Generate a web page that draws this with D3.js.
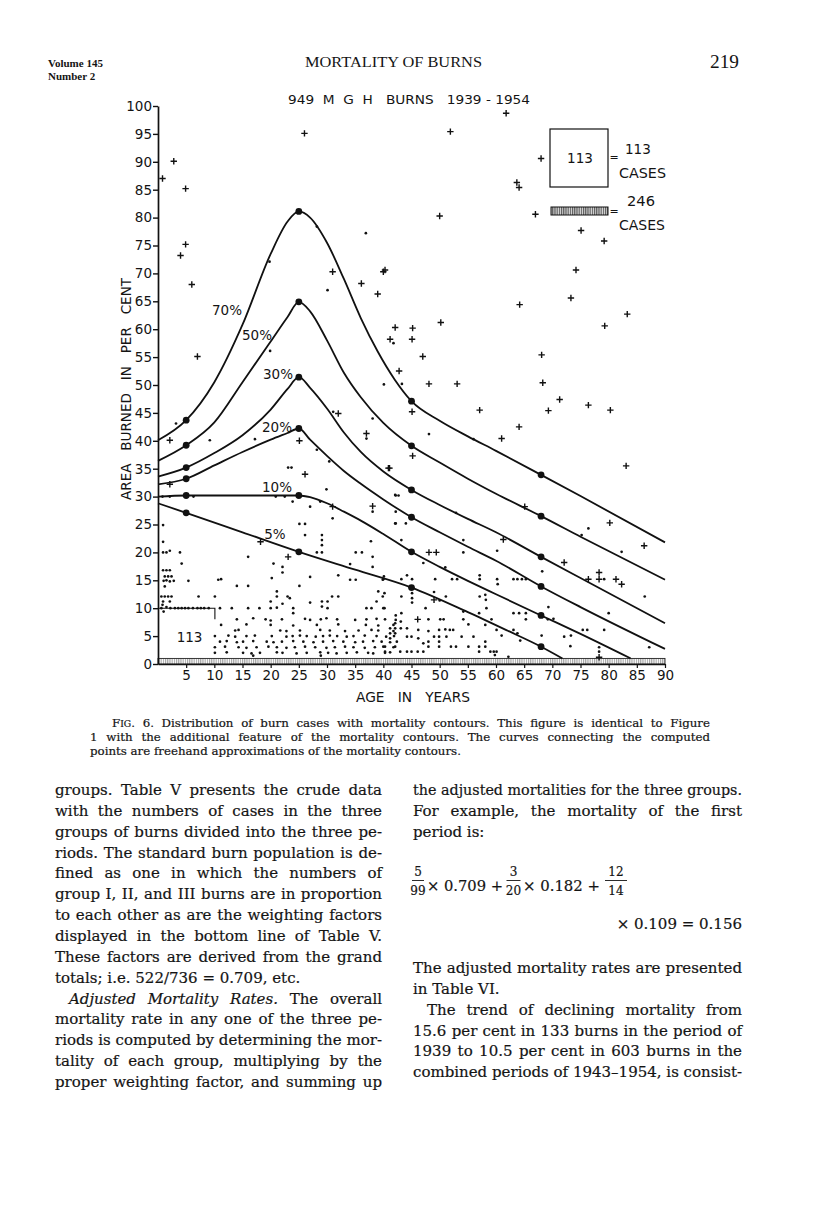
<!DOCTYPE html>
<html lang="en">
<head>
<meta charset="UTF-8">
<title>Mortality of Burns - Fig. 6</title>
<script src="https://d3js.org/d3.v7.min.js"></script>
<style>
  body { margin: 0; background: #fff; }
  svg { display: block; }
  .serif { font-family: "Liberation Serif", "DejaVu Serif", serif; fill: #141414; }
  .book { font-family: "DejaVu Serif", "Liberation Serif", serif; fill: #141414; stroke: #141414; stroke-width: 0.2; }
  .lett { font-family: "DejaVu Sans", "Liberation Sans", sans-serif; fill: #141414; }
</style>
</head>
<body>
<svg id="page"></svg>
<script>
// ---- chart data ----
const xTicks = [5, 10, 15, 20, 25, 30, 35, 40, 45, 50, 55, 60, 65, 70, 75, 80, 85, 90];
const yTicks = [0, 5, 10, 15, 20, 25, 30, 35, 40, 45, 50, 55, 60, 65, 70, 75, 80, 85, 90, 95, 100];

const contourNames = ["70%", "50%", "30%", "20%", "10%", "5%"];
const computedAges = [5, 25, 45, 68];
const computed70 = [43.7, 81.1, 47.1, 33.9];
const computed50 = [39.2, 64.9, 39.1, 26.5];
const computed30 = [35.2, 51.4, 31.2, 19.2];
const computed20 = [33.2, 42.2, 26.3, 13.9];
const computed10 = [30.2, 30.2, 20.1, 8.7];
const computed5  = [27.1, 20.1, 13.7, 3.1];

// freehand contour lines, [age, area]
const curve70 = [[0,40.1],[5,43.7],[10,50.5],[15,60.8],[20,73.5],[23,79.3],[25,81.1],[27,80],[30,75.5],[33,69],[36,62],[39,56],[42,51],[45,47.1],[50,43.6],[55,40.8],[60,38.2],[68,33.9],[75,30.1],[90,21.8]];
const curve50 = [[0,36.4],[5,39.2],[10,43.3],[15,50.5],[20,57.8],[23,62.2],[25,64.9],[27,63.2],[30,58],[33,52.2],[36,47.8],[40,43.2],[45,39.1],[50,36.1],[55,33.2],[60,30.5],[68,26.5],[75,22.8],[90,15.1]];
const curve30 = [[0,33.6],[5,35.2],[10,37.8],[15,41],[20,45.6],[23,49.3],[25,51.4],[27,49.5],[30,45.8],[33,41.5],[36,38],[40,34.5],[45,31.2],[50,28.5],[55,26],[60,23.6],[68,19.2],[75,15.4],[90,7.3]];
const curve20 = [[0,32.2],[5,33.2],[10,35.6],[15,38],[20,40.2],[23,41.4],[25,42.2],[27,40.2],[30,37.3],[33,34.6],[36,32.3],[40,29.5],[45,26.3],[50,23.6],[55,21],[60,18.5],[68,13.9],[75,10.2],[90,2.7]];
const curve10 = [[0,30],[5,30.2],[10,30.2],[15,30.2],[20,30.2],[25,30.2],[27,29.9],[30,28.8],[33,27.3],[36,25.7],[40,23.3],[45,20.1],[50,17.4],[55,14.9],[60,12.5],[68,8.7],[75,5.4],[83.9,1]];
const curve5  = [[0,28.8],[5,27.1],[15,23.6],[25,20.1],[35,16.9],[45,13.7],[55,9.3],[62,6],[68,3.1],[71.8,1]];

// deaths (+) and survivors (.), [age, area]
const deaths = [[26,95.1],[2.8,90.1],[0.8,87],[4.9,85.2],[4.9,75.2],[4,73.2],[6,68],[7,55.1],[31,70.3],[36.1,68.2],[40,70.3],[40.3,70.6],[39,66.3],[42.1,60.3],[41.2,58.2],[42.8,52.5],
  [61.8,98.7],[51.9,95.4],[68,90.6],[63.7,86.3],[64.1,85.4],[50,80.3],[67,80.6],[75.1,77.7],[79.2,75.8],[74.2,70.6],[64.2,64.4],[73.3,65.6],[83.3,62.7],[79.3,60.6],[50.2,61.2],[45.2,60.2],[45.1,58.2],[47,55.1],[68.1,55.4],[48.1,50.2],[53.1,50.2],[68.3,50.4],
  [71.3,47.4],[76.4,46.4],[80.3,45.5],[69.3,45.4],[57.1,45.5],[45.1,45.2],[64.1,42.5],[61,40.4],[45.2,37.3],[83.1,35.5],[41.1,35.1],[65.1,28.2],[80.2,25.3],[61.3,22.3],[48.1,20],[49.4,20],[86.3,21.2],[72.1,18.2],[76.4,15.2],[78.3,16.4],[78.3,15.2],[81.3,15.2],[82.3,14.3],[49,11.5],[46.1,8],
  [2.1,40.1],[25.1,40],[32,44.9],[37,41.3],[26.1,34],[40.9,35.1],[2.1,32.2],[31,28.2],[38.1,28.3],[18.2,21.9],[23.1,19.2],[78.3,1.2]];

const survivors = [[28.2,78.4],[19.8,72.1],[30.1,67],[36.9,77.2],[41.8,57.5],[19.9,56.1],[40.1,50.1],[43.3,50.2],
  [48.1,41.2],[56,40.3],[42.2,30.2],[42.7,30.2],[52.9,27.1],[42.2,27.3],[42.2,25.2],[44,25.2],[76.4,24.3],[75.2,23.1],[43.2,22.2],[54.2,22.2],[54.2,20],[60.2,20.3],[82.3,20.1],[47.1,18.1],[51,17.3],[68.2,16.6],
  [40,15.2],[43.2,15.2],[44.2,15.9],[45.1,15.2],[49.2,15.2],[52.2,15.2],[53.1,15.2],[57.1,15.9],[57.1,15.2],[60.2,15.2],[60.3,14.3],[63.1,15.2],[63.8,15.2],[64.6,15.2],[65.3,15.2],[79.2,15.2],
  [40.2,12.7],[43.2,12.1],[45.1,12.7],[45.1,11.8],[45.1,11],[49,12.9],[50,11.4],[51.1,12.1],[57.1,12.1],[58.1,12.4],[58.2,11.5],[58.3,10],[40.2,10],[86.4,12.1],[69.3,10.2],[80,9.1],[47.5,10],
  [54.2,9.4],[54.2,8],[57,9.1],[59.2,8],[63.1,9.1],[64.1,9.1],[65.3,9.1],[65.3,8],[42.2,8.7],[42.2,7.9],[43.2,9.1],[48,8],[50.1,8],[50.7,8],[55.1,7.1],[58.1,7],[60.1,6.1],[61,5.1],[63.1,6.1],[63.8,5.5],[64.3,4.2],[68.1,5.1],[70.2,8.1],[69.2,8],[72.1,4.9],[73.3,5.1],[75.4,6.1],[76.2,6.1],[79.2,6.1],[73.2,3.2],[78.3,3],[78.3,2.2],[87.2,3],
  [41.2,6.4],[41.2,5.5],[41.2,4.6],[42.1,7.3],[42.1,6.4],[42.1,5.5],[43.1,7.6],[43.1,6.4],[44.2,6.4],[44.2,4.9],[45,4.9],[46.2,6.1],[46.2,4.6],[47.1,3.7],[48,5.9],[48,4],[48,3.1],[49,4.9],[49.9,6.1],[49.9,4.9],[49.9,4],[49.9,3.1],[51,6.2],[51.8,6.1],[52.4,6.1],[51.2,4.9],[52,3.1],[52.9,3.1],[53.9,4.9],[55.1,3.1],[56,4.9],[57,3.1],[57,2.2],[58.1,4],[58.1,3.1],[59,2.2],[59.6,2.2],[60.1,2.2],[59.8,1.6],[62.2,1.3],[40.3,3.1],[40.3,2.2],[43,2.2],[44.2,2.2],[45,2.2],[46.1,2.2],[47.1,2.2],[42.1,3.1],
  [3.2,43.1],[9.2,40.1],[17.2,40.3],[28.2,38.4],[31.1,45.2],[30.4,36.3],[38.1,44],[37,40.4],[23.1,35.2],[23.7,35.2],[0.8,30],[2.1,30],[6.3,30],[20.9,30],[22.5,30],[23.9,29.1],[29.9,31.3],[28.8,29.1],[27,28.2],[31,26.1],[38.1,27.3],[42.1,30.3],[42.1,25.2],[25.1,25.1],[26.1,25.1],[26.1,23.1],[29.1,23.1],[29.1,22.2],[29.1,21.3],[37.8,22],[0.9,24.9],[0.9,21.9],
  [0.9,20],[1.5,20],[2.1,20.3],[3.9,20],[28.2,20],[29.1,20],[35.1,20],[36.2,20],[38.1,19.2],[38.1,17.4],[34.1,17.9],[4.2,18],
  [0.9,16.8],[1.5,16.8],[2.1,16.8],[1.2,15.7],[1.8,15.7],[2.4,15.7],[1,14.9],[1.5,15],[2.1,14.8],[2.8,14.9],[1.2,13.9],
  [5.4,14.9],[10.7,15.1],[11.2,15.2],[14,14],[16,14],[20.5,18],[22.1,17.4],[22.1,16.4],[20.2,15.4],[16,19.2],[27,15.6],[25.1,14],[32,15.9],[34.1,15.1],[35.1,15.1],[39.9,15.1],[40.1,15.7],
  [0.6,12.1],[1.2,12.1],[1.8,12.1],[2.4,12.1],[0.9,11.2],[2.1,11.2],[7.2,12.1],[10.1,12.1],[21.1,12.1],[20,11.2],[23,12.1],[23.4,11.8],[21.1,13],[22.1,10.8],[20,10],[21.1,10.1],[30.9,12.1],[32,12.1],[29.1,11.2],[30.1,11.2],[29.1,10.3],[30.1,10],[27,11],[38.8,11.2],[39.9,12.1],[39.1,13],[37,10],[37.9,10],[40,10],[24,10],[24,9.1],[18,10],[16,10],[13.1,10],[11,10],
  [0.6,10],[1.5,10.2],[2.2,10],[3,10],[3.6,10],[4.2,10],[4.8,10],[5.4,10],[6.2,10],[7,10],[7.6,10],[8.2,10],[9,10],[1,9.4],[0.8,10.6],
  [14,8],[16.9,8.2],[19.1,8],[20,7.8],[22,8],[26.1,8.1],[27,7.9],[28.9,8],[29.9,8.2],[31.8,8],[35,7.9],[37,8],[38.8,8.1],[40.3,8],
  [11.2,7],[15.7,7.1],[20,7],[24,6.9],[28.2,7],[32,7.1],[36.9,7],[39.1,6.9],[41.8,7],
  [13.7,6],[14.3,6.1],[21.7,6],[22.8,5.9],[25.2,6],[28.8,6.1],[30.5,6],[33.2,5.9],[35.6,6],[37.9,6.1],[39.1,6],[41.8,5.9],
  [10.1,5],[12.5,5.1],[13.7,4.9],[15.7,5],[17.2,5.1],[20.2,5],[22.8,4.9],[23.9,5],[25.2,5.1],[26.4,5],[28,4.9],[29.3,5],[30.5,5.1],[31.8,5],[33.5,4.9],[34.7,5],[36.7,5.1],[38.8,5],[40.5,4.9],[41.9,5],
  [11,4],[12.2,4.1],[14,3.9],[15.1,4],[16.9,4.1],[19.3,4],[20.5,3.9],[22,4],[24,4.1],[25.8,4],[27.6,3.9],[29.3,4],[31.1,4.1],[32.9,4],[35,3.9],[36.4,4],[38.2,4.1],[39.7,4],[41.2,3.9],[42.4,4],
  [10.1,3],[11.9,3.1],[14.3,3],[15.7,2.9],[17.5,3],[19.6,3.1],[21.1,3],[22.8,2.9],[24.3,3],[26.1,3.1],[27.9,3],[29.9,2.9],[31.4,3],[33.2,3.1],[34.7,3],[36.7,2.9],[38.5,3],[40,3.1],[41.8,3],
  [10.1,2],[12.2,2.1],[15.1,2],[16.6,1.9],[18.1,2],[21.1,2.1],[22.1,2],[24.6,1.9],[26.4,2],[28.8,2.1],[30.2,2],[31.7,1.9],[33.5,2],[35.3,2.1],[37.3,2],[38.2,1.9],[40.3,2],[41.2,2.1],[16.9,1.5],[28.9,1.5]];

// group boxes: 113 cases (age 0-10, area 0-10) and the 246-case band (area 0-1)
const box113Outline = [[0, 10], [10.1, 10], [10.1, 8]];
const box113Label = "113";
const band246 = [0, 90, 0, 1];

// ---- page text ----
const headerLeft = ["Volume 145", "Number 2"];
const runningHead = "MORTALITY OF BURNS";
const pageNumber = "219";
const chartTitle = "949  M  G  H   BURNS   1939 - 1954";
const yTitle = "AREA   BURNED   IN   PER   CENT";
const xTitle = "AGE   IN   YEARS";
const legendText = [["113", "CASES"], ["246", "CASES"]];

const captionLines = [
  "Distribution of burn cases with mortality contours. This figure is identical to Figure",
  "1 with the additional feature of the mortality contours. The curves connecting the computed",
  "points are freehand approximations of the mortality contours."
];
const leftColumn = [
  "groups. Table V presents the crude data",
  "with the numbers of cases in the three",
  "groups of burns divided into the three pe-",
  "riods. The standard burn population is de-",
  "fined as one in which the numbers of",
  "group I, II, and III burns are in proportion",
  "to each other as are the weighting factors",
  "displayed in the bottom line of Table V.",
  "These factors are derived from the grand",
  "totals; i.e. 522/736 = 0.709, etc.",
  "|Adjusted Mortality Rates.| The overall",
  "mortality rate in any one of the three pe-",
  "riods is computed by determining the mor-",
  "tality of each group, multiplying by the",
  "proper weighting factor, and summing up"
];
const rightColumnTop = [
  "the adjusted mortalities for the three groups.",
  "For example, the mortality of the first",
  "period is:"
];
const formulaFractions = [["5", "99"], ["3", "20"], ["12", "14"]];
const formulaTerms = ["\u00d7 0.709 +", "\u00d7 0.182 +"];
const formulaTail = "\u00d7 0.109 = 0.156";
const rightColumnBottom = [
  "The adjusted mortality rates are presented",
  "in Table VI.",
  "The trend of declining mortality from",
  "15.6 per cent in 133 burns in the period of",
  "1939 to 10.5 per cent in 603 burns in the",
  "combined periods of 1943\u20131954, is consist-"
];

// ---- drawing ----
const W = 816, H = 1210;
const svg = d3.select("#page").attr("width", W).attr("height", H).attr("viewBox", [0, 0, W, H]);
svg.append("rect").attr("width", W).attr("height", H).attr("fill", "#fff");

const defs = svg.append("defs");
const hatch = defs.append("pattern").attr("id", "hatch").attr("patternUnits", "userSpaceOnUse")
  .attr("width", 2.2).attr("height", 4);
hatch.append("rect").attr("width", 2.2).attr("height", 4).attr("fill", "#fff");
hatch.append("line").attr("x1", 0.6).attr("x2", 0.6).attr("y1", 0).attr("y2", 4)
  .attr("stroke", "#8a8a8a").attr("stroke-width", 0.9);
const hatchDark = defs.append("pattern").attr("id", "hatchDark").attr("patternUnits", "userSpaceOnUse")
  .attr("width", 2.2).attr("height", 4);
hatchDark.append("rect").attr("width", 2.2).attr("height", 4).attr("fill", "#ddd");
hatchDark.append("line").attr("x1", 0.6).attr("x2", 0.6).attr("y1", 0).attr("y2", 4)
  .attr("stroke", "#444").attr("stroke-width", 1);

const x = d3.scaleLinear().domain([0, 90]).range([158, 665]);
const y = d3.scaleLinear().domain([0, 100]).range([664, 106]);

// header
svg.append("text").attr("class", "serif").attr("x", 48).attr("y", 67)
  .attr("font-size", 11).attr("font-weight", "bold").text(headerLeft[0]);
svg.append("text").attr("class", "serif").attr("x", 48).attr("y", 79.5)
  .attr("font-size", 11).attr("font-weight", "bold").text(headerLeft[1]);
svg.append("text").attr("class", "serif").attr("x", 305).attr("y", 67)
  .attr("font-size", 14.5).attr("textLength", 177).attr("lengthAdjust", "spacingAndGlyphs").text(runningHead);
svg.append("text").attr("class", "serif").attr("x", 710).attr("y", 68)
  .attr("font-size", 18.5).attr("textLength", 29).attr("lengthAdjust", "spacingAndGlyphs").text(pageNumber);

// chart title
svg.append("text").attr("class", "lett").attr("x", 288).attr("y", 104)
  .attr("font-size", 13).style("white-space", "pre")
  .attr("textLength", 242).attr("lengthAdjust", "spacingAndGlyphs").text(chartTitle);

// 246-case band along the bottom
svg.append("rect")
  .attr("x", x(band246[0])).attr("width", x(band246[1]) - x(band246[0]))
  .attr("y", y(band246[3])).attr("height", y(band246[2]) - y(band246[3]))
  .attr("fill", "url(#hatch)").attr("stroke", "#222").attr("stroke-width", 0.9);

// axes
const yAxis = d3.axisLeft(y).tickValues(yTicks).tickSizeInner(5).tickSizeOuter(0).tickPadding(1)
  .tickFormat(d3.format("d"));
svg.append("g").attr("transform", `translate(${x(0)},0)`).call(yAxis)
  .call(g => {
    g.attr("font-family", null).attr("font-size", null);
    g.select(".domain").attr("stroke", "#111").attr("stroke-width", 1.7);
    g.selectAll(".tick line").attr("stroke", "#111").attr("stroke-width", 1.4);
    g.selectAll(".tick text").attr("class", "lett").attr("font-size", 13.5).attr("fill", "#111");
  });

const xAxis = d3.axisBottom(x).tickValues(xTicks).tickSizeInner(4).tickSizeOuter(0).tickPadding(2)
  .tickFormat(d3.format("d"));
svg.append("g").attr("transform", `translate(0,${y(0)})`).call(xAxis)
  .call(g => {
    g.attr("font-family", null).attr("font-size", null);
    g.select(".domain").attr("stroke", "#111").attr("stroke-width", 1.7);
    g.selectAll(".tick line").attr("stroke", "#111").attr("stroke-width", 1.2);
    g.selectAll(".tick text").attr("class", "lett").attr("font-size", 13.5).attr("fill", "#111");
  });

// axis titles
svg.append("text").attr("class", "lett").attr("font-size", 13.5).style("white-space", "pre")
  .attr("text-anchor", "middle").attr("transform", "translate(131,389) rotate(-90)")
  .attr("textLength", 222).attr("lengthAdjust", "spacingAndGlyphs").text(yTitle);
svg.append("text").attr("class", "lett").attr("font-size", 13.5).style("white-space", "pre")
  .attr("x", 356).attr("y", 702)
  .attr("textLength", 114).attr("lengthAdjust", "spacingAndGlyphs").text(xTitle);

// 113-case box outline and label
const line = d3.line().x(d => x(d[0])).y(d => y(d[1]));
svg.append("path").attr("d", line(box113Outline)).attr("fill", "none")
  .attr("stroke", "#111").attr("stroke-width", 1.1);
svg.append("text").attr("class", "lett").attr("font-size", 13.5).attr("text-anchor", "middle")
  .attr("x", x(5.6)).attr("y", y(4.8) + 5).text(box113Label);

// scatter
svg.append("g").selectAll("circle").data(survivors).join("circle")
  .attr("cx", d => x(d[0])).attr("cy", d => y(d[1])).attr("r", 1.35).attr("fill", "#111");
svg.append("g").selectAll("path").data(deaths).join("path")
  .attr("transform", d => `translate(${x(d[0])},${y(d[1])})`)
  .attr("d", "M-3.2,0H3.2M0,-3.2V3.2").attr("stroke", "#111").attr("stroke-width", 1.4);

// mortality contours
const contourCurves = [curve70, curve50, curve30, curve20, curve10, curve5];
const contourComputed = [computed70, computed50, computed30, computed20, computed10, computed5];
const smooth = d3.line().x(d => x(d[0])).y(d => y(d[1])).curve(d3.curveMonotoneX);
const cg = svg.append("g");
contourCurves.forEach(c => {
  cg.append("path").attr("d", smooth(c)).attr("fill", "none")
    .attr("stroke", "#111").attr("stroke-width", 1.8).attr("stroke-linejoin", "round");
});
contourComputed.forEach(vals => {
  cg.selectAll(null).data(vals.map((v, i) => [computedAges[i], v])).join("circle")
    .attr("cx", d => x(d[0])).attr("cy", d => y(d[1])).attr("r", 3.4).attr("fill", "#111");
});

// contour labels (pixel anchors of the hand lettering)
const labelAnchors = [[227, 315], [257, 340], [278, 379], [277, 432], [277, 492], [275, 539]];
contourNames.forEach((n, i) => {
  svg.append("text").attr("class", "lett").attr("font-size", 13.5).attr("text-anchor", "middle")
    .attr("x", labelAnchors[i][0]).attr("y", labelAnchors[i][1]).text(n);
});

// legend
svg.append("rect").attr("x", 550).attr("y", 129).attr("width", 58).attr("height", 58)
  .attr("fill", "none").attr("stroke", "#111").attr("stroke-width", 1.2);
svg.append("text").attr("class", "lett").attr("font-size", 13.5).attr("text-anchor", "middle")
  .attr("x", 580).attr("y", 163).text(legendText[0][0]);
svg.append("text").attr("class", "lett").attr("font-size", 11).attr("x", 609.5).attr("y", 161).text("=");
svg.append("text").attr("class", "lett").attr("font-size", 13.5).attr("x", 625).attr("y", 154).text(legendText[0][0]);
svg.append("text").attr("class", "lett").attr("font-size", 13.5).attr("x", 619).attr("y", 178)
  .attr("textLength", 47).attr("lengthAdjust", "spacingAndGlyphs").text(legendText[0][1]);
svg.append("rect").attr("x", 551).attr("y", 207).attr("width", 57).attr("height", 8)
  .attr("fill", "url(#hatchDark)").attr("stroke", "#111").attr("stroke-width", 1);
svg.append("text").attr("class", "lett").attr("font-size", 11).attr("x", 609.5).attr("y", 215).text("=");
svg.append("text").attr("class", "lett").attr("font-size", 13.5).attr("x", 627).attr("y", 206)
  .attr("textLength", 28).attr("lengthAdjust", "spacingAndGlyphs").text(legendText[1][0]);
svg.append("text").attr("class", "lett").attr("font-size", 13.5).attr("x", 619).attr("y", 230)
  .attr("textLength", 46).attr("lengthAdjust", "spacingAndGlyphs").text(legendText[1][1]);

// ---- caption and body text ----
function fitLine(t, str, width) {
  const natural = t.node().getComputedTextLength();
  const spaces = (str.match(/ /g) || []).length;
  if (natural > width) {
    t.attr("textLength", width).attr("lengthAdjust", "spacingAndGlyphs");
  } else if (spaces) {
    t.attr("word-spacing", (width - natural) / spaces);
  }
}

function textLine(xPos, yPos, str, size, width, justify) {
  const t = svg.append("text").attr("class", "book").attr("x", xPos).attr("y", yPos)
    .attr("font-size", size);
  // "|...|" marks an italic run
  str.split("|").forEach((part, i) => {
    if (!part) return;
    const ts = t.append("tspan").text(part);
    if (i % 2 === 1) ts.attr("font-style", "italic");
  });
  if (justify) fitLine(t, str, width);
  return t;
}

// caption
const cap = svg.append("text").attr("class", "book").attr("x", 112).attr("y", 727).attr("font-size", 11.8);
cap.append("tspan").text("F");
cap.append("tspan").attr("font-size", 9.2).text("IG");
cap.append("tspan").text(". 6. " + captionLines[0]);
fitLine(cap, "Fig. 6. " + captionLines[0], 710 - 112);
textLine(90, 741, captionLines[1], 11.8, 620, true);
textLine(90, 755, captionLines[2], 11.8, 0, false);

// left column
const colL = 55, colR = 413, colW = 327, lh = 20.85, base0 = 795, bodySize = 15;
leftColumn.forEach((s, i) => {
  const indent = i === 10 ? 14 : 0;
  textLine(colL + indent, base0 + i * lh, s, bodySize, colW - indent, i !== 9);
});

// right column
rightColumnTop.forEach((s, i) => {
  textLine(colR, base0 + i * lh, s, bodySize, colW + 2, i < 2);
});

// formula
const fracX = [418, 513.5, 616];
const fracW = [12, 14, 22];
formulaFractions.forEach((f, i) => {
  svg.append("text").attr("class", "book").attr("font-size", 12).attr("text-anchor", "middle")
    .attr("x", fracX[i]).attr("y", 876).text(f[0]);
  svg.append("line").attr("x1", fracX[i] - fracW[i] / 2).attr("x2", fracX[i] + fracW[i] / 2)
    .attr("y1", 880.5).attr("y2", 880.5).attr("stroke", "#141414").attr("stroke-width", 0.9);
  svg.append("text").attr("class", "book").attr("font-size", 12).attr("text-anchor", "middle")
    .attr("x", fracX[i]).attr("y", 895).text(f[1]);
});
svg.append("text").attr("class", "book").attr("font-size", bodySize).attr("x", 427).attr("y", 891)
  .attr("textLength", 76).attr("lengthAdjust", "spacingAndGlyphs").text(formulaTerms[0]);
svg.append("text").attr("class", "book").attr("font-size", bodySize).attr("x", 523).attr("y", 891)
  .attr("textLength", 77).attr("lengthAdjust", "spacingAndGlyphs").text(formulaTerms[1]);
svg.append("text").attr("class", "book").attr("font-size", bodySize).attr("x", 742).attr("y", 929)
  .attr("text-anchor", "end").text(formulaTail);

const rightBase = 973;
rightColumnBottom.forEach((s, i) => {
  const indent = i === 2 ? 14 : 0;
  textLine(colR + indent, rightBase + i * lh, s, bodySize, colW + 2 - indent, i !== 1);
});
</script>
</body>
</html>
